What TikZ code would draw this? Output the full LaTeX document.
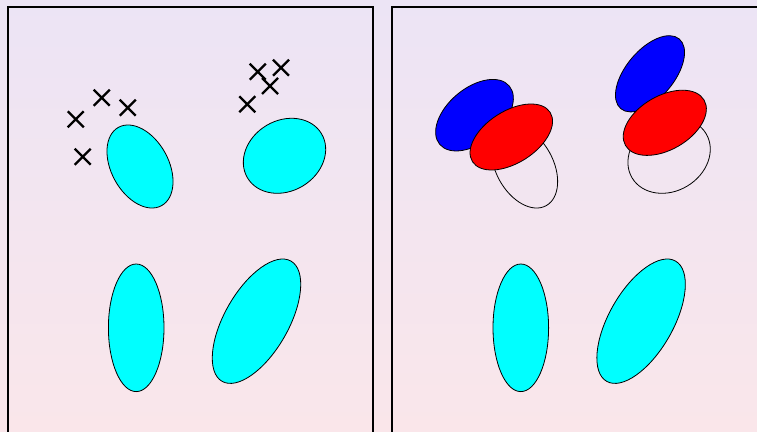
\documentclass[tikz,border=0pt]{standalone}
\definecolor{bgtop}{RGB}{236,228,245}
\definecolor{bgbot}{RGB}{250,230,234}
\definecolor{cyanfill}{RGB}{0,255,255}
\definecolor{bluefill}{RGB}{0,0,255}
\definecolor{redfill}{RGB}{255,0,0}
\tikzset{
  panel/.style={draw=black, line width=2pt},
  blob/.style={draw=black, line width=0.8pt},
  cyanblob/.style={blob, fill=cyanfill},
  blueblob/.style={blob, fill=bluefill},
  redblob/.style={blob, fill=redfill},
  crossmark/.pic={\draw[line width=2.3pt] (-8,-8) -- (8,8) (-8,8) -- (8,-8);}
}
\begin{document}
\begin{tikzpicture}[x=1pt,y=-1pt]
\useasboundingbox (0,0) rectangle (757,431);
\clip (0,0) rectangle (757,431);
\shade[top color=bgtop, bottom color=bgbot] (0,0) rectangle (757,431);
% panels
\draw[panel] (7.5,445) -- (7.5,6.8) -- (373.3,6.8) -- (373.3,445);
\draw[panel] (392.3,445) -- (392.3,6.8) -- (775,6.8);
% ---- left panel ----
\path[cyanblob, rotate around={28.8:(140,166.5)}] (140,166.5) ellipse [x radius=28.6pt, y radius=44.7pt];
\path[cyanblob, rotate around={30.9:(284.5,155.8)}] (284.5,155.8) ellipse [x radius=43.1pt, y radius=35.3pt];
\path[cyanblob] (136.2,327.8) ellipse [x radius=27.8pt, y radius=63.8pt];
\path[cyanblob, rotate around={-29.8:(256.5,321.2)}] (256.5,321.2) ellipse [x radius=32pt, y radius=69.3pt];
% crosses
\pic at (75.7,119.3) {crossmark};
\pic at (101.7,97.7) {crossmark};
\pic at (127.7,107.7) {crossmark};
\pic at (82.7,156.7) {crossmark};
\pic at (257.7,71.7) {crossmark};
\pic at (281,67.7) {crossmark};
\pic at (270,86) {crossmark};
\pic at (247.3,104.3) {crossmark};
% ---- right panel ----
\path[blob, rotate around={28.8:(524.6,166.5)}] (524.6,166.5) ellipse [x radius=28.6pt, y radius=44.7pt];
\path[blob, rotate around={30.9:(669.1,155.8)}] (669.1,155.8) ellipse [x radius=43.1pt, y radius=35.3pt];
\path[cyanblob] (520.8,327.8) ellipse [x radius=27.8pt, y radius=63.8pt];
\path[cyanblob, rotate around={-29.8:(641.1,321.2)}] (641.1,321.2) ellipse [x radius=32pt, y radius=69.3pt];
\path[blueblob, rotate around={40:(474.5,115.2)}] (474.5,115.2) ellipse [x radius=45.4pt, y radius=27pt];
\path[redblob, rotate around={32.4:(511.3,137)}] (511.3,137) ellipse [x radius=46pt, y radius=26pt];
\path[blueblob, rotate around={50:(650,73.8)}] (650,73.8) ellipse [x radius=45.5pt, y radius=24pt];
\path[redblob, rotate around={30:(664.8,122.8)}] (664.8,122.8) ellipse [x radius=45.4pt, y radius=27pt];
\end{tikzpicture}
\end{document}
